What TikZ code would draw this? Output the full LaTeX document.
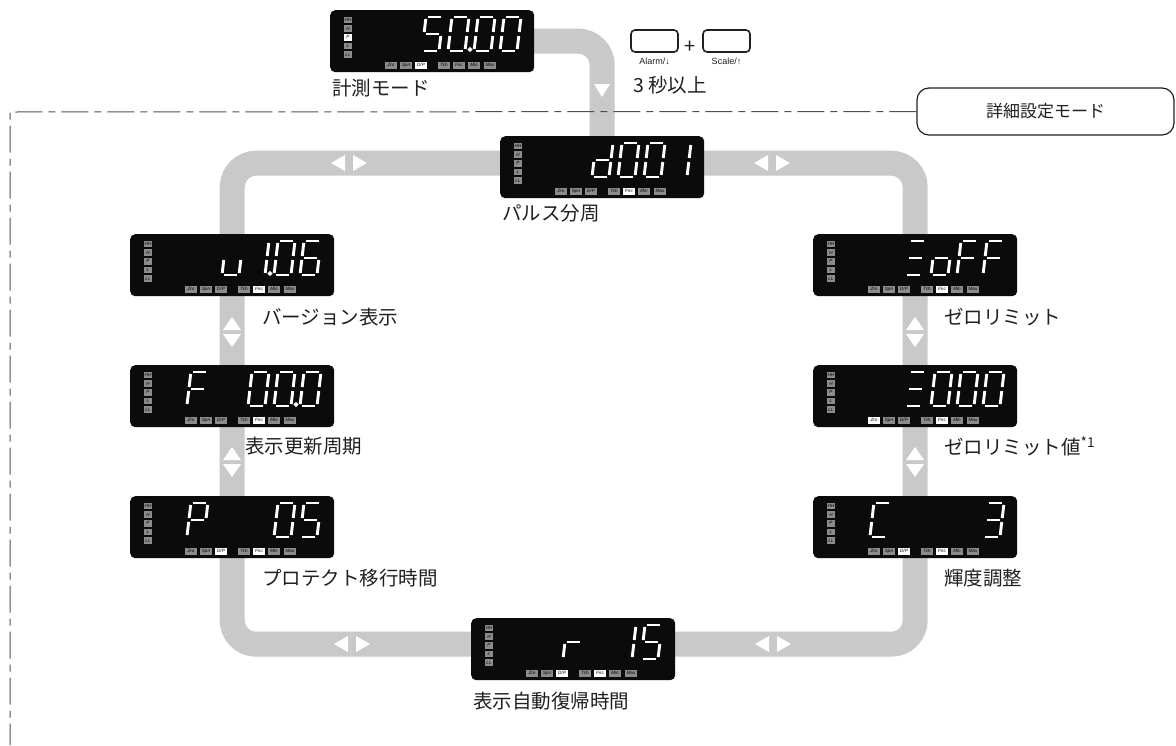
\documentclass[tikz,border=0pt]{standalone}
\usepackage{fontspec}
\setmainfont{Noto Sans CJK JP}
\newfontfamily\lcdfont{Liberation Sans}
\usetikzlibrary{calc,positioning,backgrounds}
\definecolor{pnInk}  {HTML}{231F20}
\definecolor{pnBand} {HTML}{C9C9C9}
\definecolor{pnLcd}  {HTML}{0B0B0B}
\definecolor{pnOff}  {HTML}{8C8C8C}
\definecolor{pnFrame}{HTML}{505050}

\tikzset{
  lcd/.style={fill=pnLcd,rounded corners=5pt,minimum width=204pt,
              minimum height=62pt,inner sep=0pt,anchor=north west},
  segline/.style={draw=white,line width=2.9pt},
  seg a/.style={insert path={($(TL)!2pt!(TR)$) -- ($(TR)!2pt!(TL)$)}},
  seg b/.style={insert path={($(TR)!2pt!(MR)$) -- ($(MR)!2pt!(TR)$)}},
  seg c/.style={insert path={($(MR)!2pt!(BR)$) -- ($(BR)!2pt!(MR)$)}},
  seg d/.style={insert path={($(BL)!2pt!(BR)$) -- ($(BR)!2pt!(BL)$)}},
  seg e/.style={insert path={($(ML)!2pt!(BL)$) -- ($(BL)!2pt!(ML)$)}},
  seg f/.style={insert path={($(TL)!2pt!(ML)$) -- ($(ML)!2pt!(TL)$)}},
  seg g/.style={insert path={($(ML)!2pt!(MR)$) -- ($(MR)!2pt!(ML)$)}},
  seg p/.style={insert path={($(BR)+(5,-1.5)$) circle[radius=0.5pt]}},
  indbox/.style={fill=pnOff,text=black,inner sep=0pt,
                 font=\lcdfont\itshape\fontsize{4.6}{5}\selectfont},
  indside/.style={indbox,minimum width=8pt,minimum height=6.5pt},
  indbot/.style={indbox,minimum width=12.5pt,minimum height=7pt},
  mark lit/.code={\tikzset{lit #1/.style={fill=white}}},
  plabel/.style={font=\fontsize{19.5}{22}\selectfont,text=pnInk,inner sep=0pt,anchor=west},
  band/.style={draw=pnBand,line width=25pt,rounded corners=24pt},
  keybtn/.style={draw=pnInk,line width=1.6pt,rounded corners=4pt,
                 minimum width=47pt,minimum height=22pt,inner sep=0pt},
  keylab/.style={font=\lcdfont\fontsize{9}{10}\selectfont,text=pnInk,inner sep=0pt},
  modebox/.style={draw=pnInk,line width=1.2pt,rounded corners=12pt,minimum width=257pt,
                  minimum height=47pt,font=\fontsize{17}{20}\selectfont,text=pnInk},
  frameline/.style={draw=pnFrame,line width=1pt,dash pattern=on 27pt off 6pt on 7pt off 6pt},
  lrpair/.pic={\fill[white] (-4,-8) -- (-18,0) -- (-4,8) -- cycle
                            (4,-8) -- (18,0) -- (4,8) -- cycle;},
  udpair/.pic={\fill[white] (-9,-2) -- (0,-15) -- (9,-2) -- cycle
                            (-9,2) -- (0,15) -- (9,2) -- cycle;},
  downmark/.pic={\fill[white] (-8,-6) -- (8,-6) -- (0,7) -- cycle;}
}

% black display with its indicator boxes: name, north west corner, lit boxes
\newcommand{\lcdpanel}[3]{%
  \node[lcd] (#1) at #2 {};
  \begin{scope}[mark lit/.list={#3}]
    \foreach \nm [count=\i] in {HH,H,P,L,LL}
      \node[indside,lit l\i/.try] at ($(#1.north west)+(18,1.5+8.6*\i)$) {\nm};
    \foreach \nm/\dx [count=\i] in {Zro/61,Spn/76,{D/P}/91,Tch/114,Fnc/129,Min/144,Max/160}
      \node[indbot,lit b\i/.try] at ($(#1.north west)+(\dx,55)$) {\nm};
  \end{scope}}

% seven segment characters: panel, list of position/segments
\newcommand{\lcdchars}[2]{%
  \foreach \k/\segs in {#2} {
    \begin{scope}[shift={($(#1.north west)+(92+26*\k,7)$)}]
      \coordinate (TL) at (4,0);  \coordinate (TR) at (21,0);
      \coordinate (ML) at (2,17); \coordinate (MR) at (19,17);
      \coordinate (BL) at (0,34); \coordinate (BR) at (17,34);
      \foreach \sg in \segs {\draw[segline] (TL) [seg \sg];}
    \end{scope}}}

\begin{document}
\begin{tikzpicture}[x=1pt,y=-1pt]
  \useasboundingbox (0,0) rectangle (1176,745);
  \begin{scope}[on background layer]
    \fill[white] (0,0) rectangle (1176,745);
  \end{scope}

  % frame of the detail mode
  \node[modebox] (mode) at (1045.5,111.5) {詳細設定モード};
  \coordinate (frTop) at (10,112);
  \coordinate (frEnd) at (10,745);
  \draw[frameline] (mode.west) -- (frTop) -- (frEnd);

  % displays
  \lcdpanel{pm}{(330,10)}{l3,b3}
  \lcdpanel{pd}{(500,136)}{b5}
  \lcdpanel{pv}{(130,234)}{b5}
  \lcdpanel{pf}{(130,365)}{b5}
  \lcdpanel{pp}{(130,496)}{b3,b5}
  \lcdpanel{pz}{(813,234)}{b5}
  \lcdpanel{pzv}{(813,365)}{b1,b5}
  \lcdpanel{pc}{(813,496)}{b3,b5}
  \lcdpanel{pr}{(471,618)}{b3,b5}

  % gray loop behind the displays
  \begin{scope}[on background layer]
    \draw[band] (pm.center) -| (pd.center);
    \draw[band] ($(pd.center)+(0,-4)$) -| (pc.center) |- ($(pr.center)+(0,-5)$)
                -| (pp.center) |- ($(pd.center)+(0,-4)$);
  \end{scope}
  \pic at (602,90) {downmark};
  \pic at (349,163) {lrpair};
  \pic at (772,163) {lrpair};
  \pic at (352,644) {lrpair};
  \pic at (773,644) {lrpair};
  \pic at (232,332) {udpair};
  \pic at (232,462) {udpair};
  \pic at (915,332) {udpair};
  \pic at (915,462) {udpair};

  \lcdchars{pm}{0/{a,f,g,c,d},1/{a,b,c,d,e,f,p},2/{a,b,c,d,e,f},3/{a,b,c,d,e,f}}
  \lcdchars{pd}{0/{b,c,d,e,g},1/{a,b,c,d,e,f},2/{a,b,c,d,e,f},3/{b,c}}
  \lcdchars{pv}{0/{c,d,e},1/{b,c,p},2/{a,b,c,d,e,f},3/{a,f,g,e,d,c}}
  \lcdchars{pf}{-1.35/{a,e,f,g},1/{a,b,c,d,e,f},2/{a,b,c,d,e,f,p},3/{a,b,c,d,e,f}}
  \lcdchars{pp}{-1.35/{a,b,e,f,g},2/{a,b,c,d,e,f},3/{a,f,g,c,d}}
  \lcdchars{pz}{0/{a,g,d},1/{c,d,e,g},2/{a,e,f,g},3/{a,e,f,g}}
  \lcdchars{pzv}{0/{a,g,d},1/{a,b,c,d,e,f},2/{a,b,c,d,e,f},3/{a,b,c,d,e,f}}
  \lcdchars{pc}{-1.35/{a,d,e,f},3/{a,b,c,d,g}}
  \lcdchars{pr}{0/{e,g},2/{b,c},3/{a,f,g,c,d}}

  % labels
  \node[plabel] at ($(pm.south west)+(2,16)$) {計測モード};
  \node[plabel] at ($(pd.south west)+(2,15)$) {パルス分周};
  \node[plabel] at ($(pv.south west)+(132,21)$) {バージョン表示};
  \node[plabel] at ($(pf.south west)+(115,19)$) {表示更新周期};
  \node[plabel] at ($(pp.south west)+(132,20)$) {プロテクト移行時間};
  \node[plabel] at ($(pz.south west)+(131,21)$) {ゼロリミット};
  \node[plabel] at ($(pzv.south west)+(131,19)$) {ゼロリミット値\textsuperscript{*1}};
  \node[plabel] at ($(pc.south west)+(131,20)$) {輝度調整};
  \node[plabel] at ($(pr.south west)+(2,21)$) {表示自動復帰時間};

  % key combination
  \node[keybtn] (kAlarm) at (654.5,41) {};
  \node[keybtn] (kScale) at (726.5,41) {};
  \node[font=\fontsize{20}{20}\selectfont,text=pnInk,inner sep=0pt]
       (kPlus) at ($(kAlarm)!0.5!(kScale)+(0,6)$) {+};
  \node[keylab,below=5pt of kAlarm] (kAlarmLab) {Alarm/↓};
  \node[keylab,below=5pt of kScale] (kScaleLab) {Scale/↑};
  \node[plabel] (kTime) at (633,85) {3 秒以上};
\end{tikzpicture}
\end{document}
